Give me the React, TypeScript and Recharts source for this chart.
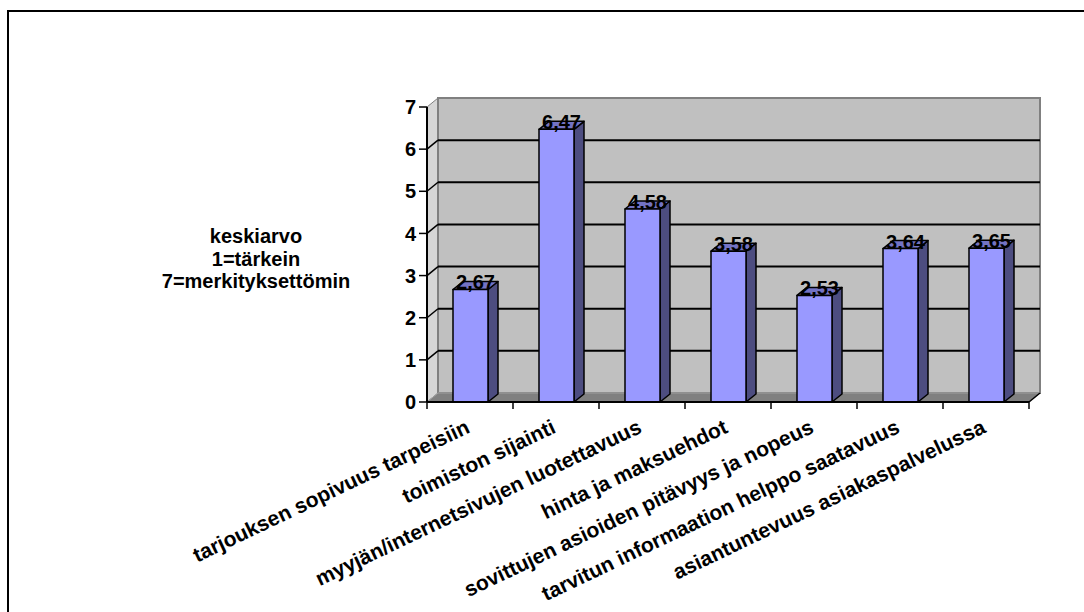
import React from "react";
import { BarChart, Bar, XAxis, YAxis, CartesianGrid, LabelList } from "recharts";

const categories = [
  "tarjouksen sopivuus tarpeisiin",
  "toimiston sijainti",
  "myyjän/internetsivujen luotettavuus",
  "hinta ja maksuehdot",
  "sovittujen asioiden pitävyys ja nopeus",
  "tarvitun informaation helppo saatavuus",
  "asiantuntevuus asiakaspalvelussa",
];
const keskiarvo = [2.67, 6.47, 4.58, 3.58, 2.53, 3.64, 3.65];
const yTicks = [0, 1, 2, 3, 4, 5, 6, 7];
const yTitle = ["keskiarvo", "1=tärkein", "7=merkityksettömin"];

const data = categories.map((name, i) => ({ name, value: keskiarvo[i] }));

// layout
const W = 1084;
const H = 612;
const L = 427;
const T = 107;
const R = 1029;
const B = 402;
const DX = 11; // wall depth
const DY = 9;
const BDX = 10; // bar depth
const BDY = 8;
const FONT = "Arial, 'Liberation Sans', sans-serif";

const Bar3D = (props: any) => {
  const { x, y, width, height } = props;
  const b = y + height;
  return (
    <g stroke="#000" strokeWidth={1.5} strokeLinejoin="round">
      <polygon
        points={`${x + width},${b} ${x + width + BDX},${b - BDY} ${x + width + BDX},${y - BDY} ${x + width},${y}`}
        fill="#4D4D80"
      />
      <polygon
        points={`${x},${y} ${x + BDX},${y - BDY} ${x + width + BDX},${y - BDY} ${x + width},${y}`}
        fill="#7373C4"
      />
      <rect x={x} y={y} width={width} height={height} fill="#9999FF" />
    </g>
  );
};

const GridLine = (p: any) => {
  const isTop = Math.abs(p.y1 - p.y) < 1;
  const isBottom = Math.abs(p.y1 - (p.y + p.height)) < 1;
  if (isTop || isBottom) return <g key={p.key} />;
  return (
    <g key={p.key}>
      <line x1={p.x1} y1={p.y1} x2={p.x1 + DX} y2={p.y1 - DY} stroke="#000" strokeWidth={1.5} />
      <line x1={p.x1 + DX} y1={p.y1 - DY} x2={p.x2 + DX} y2={p.y2 - DY} stroke="#000" strokeWidth={2} />
    </g>
  );
};

const CategoryTick = (props: any) => {
  const { x, payload, index } = props;
  const band = (R - L) / categories.length;
  const left = x - band / 2;
  const tx = x + 1;
  const ty = B + 30;
  return (
    <g>
      <line x1={left} y1={B} x2={left} y2={B + 7} stroke="#000" strokeWidth={1.5} />
      {index === categories.length - 1 && (
        <line x1={left + band} y1={B} x2={left + band} y2={B + 7} stroke="#000" strokeWidth={1.5} />
      )}
      <text
        x={tx}
        y={ty}
        transform={`rotate(-25.5 ${tx} ${ty})`}
        textAnchor="end"
        fontFamily={FONT}
        fontWeight="bold"
        fontSize={21}
        fill="#000"
      >
        {payload.value}
      </text>
    </g>
  );
};

const ValueLabel = (props: any) => {
  const { x, y, width, value } = props;
  return (
    <text
      x={x + (width + BDX) / 2}
      y={y}
      textAnchor="middle"
      fontFamily={FONT}
      fontWeight="bold"
      fontSize={20}
      fill="#000"
    >
      {Number(value).toFixed(2).replace(".", ",")}
    </text>
  );
};

const YTitle = () => (
  <text textAnchor="middle" fontFamily={FONT} fontWeight="bold" fontSize={20} fill="#000">
    {yTitle.map((t, i) => (
      <tspan key={t} x={256} y={243 + i * 22.5}>
        {t}
      </tspan>
    ))}
  </text>
);

export default function App() {
  return (
    <div style={{ position: "absolute", left: 0, top: 0, width: W, height: H, background: "#fff" }}>
      <svg width={W} height={H} style={{ position: "absolute", left: 0, top: 0 }}>
        <path d={`M8 ${H} V11 H${W}`} stroke="#000" strokeWidth={2} fill="none" />
        <polygon
          points={`${L},${T} ${L + DX},${T - DY} ${L + DX},${B - DY} ${L},${B}`}
          fill="#D6D6D6"
          stroke="#808080"
        />
        <rect x={L + DX} y={T - DY} width={R - L} height={B - T} fill="#C0C0C0" stroke="#808080" strokeWidth={2} />
        <polygon
          points={`${L},${B} ${L + DX},${B - DY} ${R + DX},${B - DY} ${R},${B}`}
          fill="#808080"
          stroke="#A0A0A0"
        />
        <line x1={R} y1={B} x2={R + DX} y2={B - DY} stroke="#000" strokeWidth={1.5} />
      </svg>
      <div style={{ position: "absolute", left: 0, top: 0 }}>
        <BarChart
          width={W}
          height={H}
          data={data}
          margin={{ top: T, right: W - R, bottom: 0, left: 0 }}
          barCategoryGap={0}
        >
          <CartesianGrid vertical={false} horizontal={GridLine} />
          <XAxis
            dataKey="name"
            height={H - B}
            interval={0}
            axisLine={{ stroke: "#000", strokeWidth: 2 }}
            tickLine={false}
            tick={<CategoryTick />}
          />
          <YAxis
            type="number"
            domain={[0, 7]}
            ticks={yTicks}
            interval={0}
            width={L}
            tickSize={8}
            tickMargin={3}
            axisLine={{ stroke: "#000", strokeWidth: 2 }}
            tickLine={{ stroke: "#000", strokeWidth: 1.5 }}
            tick={{ fill: "#000", fontSize: 20, fontWeight: "bold", fontFamily: FONT }}
          />
          <Bar dataKey="value" barSize={35} shape={<Bar3D />} isAnimationActive={false}>
            <LabelList dataKey="value" content={<ValueLabel />} />
          </Bar>
        </BarChart>
      </div>
      <svg width={W} height={H} style={{ position: "absolute", left: 0, top: 0, pointerEvents: "none" }}>
        <YTitle />
      </svg>
    </div>
  );
}
